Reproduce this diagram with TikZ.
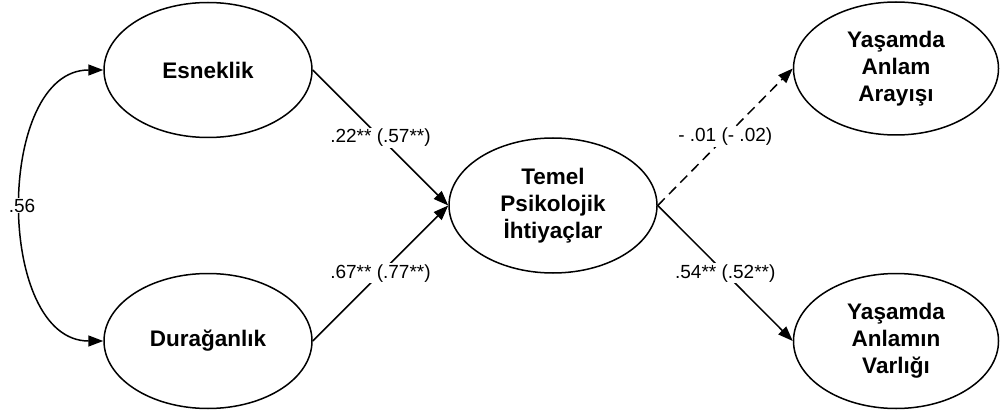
\documentclass[tikz,border=0pt]{standalone}
\usepackage{fontspec}
\setmainfont{Liberation Sans}
\usetikzlibrary{shapes.geometric,arrows.meta}
\tikzset{
  latent/.style={draw, line width=1.5pt, ellipse, minimum width=208pt, minimum height=135pt, inner sep=0pt, align=center, font=\fontsize{22.5}{27}\selectfont\bfseries},
  path/.style={line width=1.5pt, -{Triangle[length=15pt,width=11pt]}},
  lbl/.style={fill=white, inner sep=1pt, font=\fontsize{19}{21}\selectfont}
}
\begin{document}
\begin{tikzpicture}[x=1pt,y=-1pt]
\useasboundingbox (0,0) rectangle (1000,414);
\node[latent] (E) at (208,70) {Esneklik};
\node[latent] (D) at (208,341) {Durağanlık};
\node[latent] (T) at (553,205.5) {Temel\\Psikolojik\\İhtiyaçlar};
\node[latent, minimum width=205pt, minimum height=133pt] (A) at (896,68.5) {Yaşamda\\Anlam\\Arayışı};
\node[latent, minimum width=205pt] (V) at (896,341) {Yaşamda\\Anlamın\\Varlığı};
\draw[path] (E.east) -- node[lbl] {.22** (.57**)} (T.west);
\draw[path] (D.east) -- node[lbl] {.67** (.77**)} (T.west);
\draw[path, dash pattern=on 10pt off 6pt] (T.east) -- node[lbl] {- .01 (- .02)} (A.west);
\draw[path] (T.east) -- node[lbl] {.54** (.52**)} (V.west);
\draw[line width=1.5pt, {Triangle[length=15pt,width=11pt]}-{Triangle[length=15pt,width=11pt]}]
  (E.west) .. controls (-5,70) and (-5,341) .. node[lbl] {.56} (D.west);
\end{tikzpicture}
\end{document}
